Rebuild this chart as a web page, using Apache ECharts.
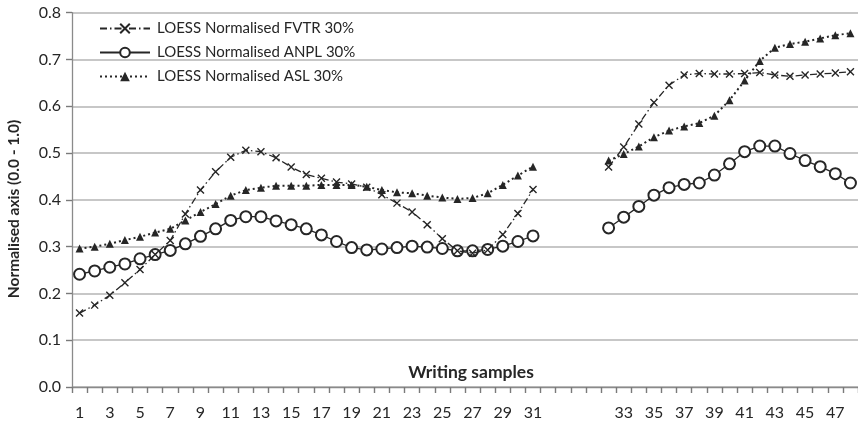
<!DOCTYPE html>
<html>
<head>
<meta charset="utf-8">
<script src="https://cdn.jsdelivr.net/npm/echarts@6/dist/echarts.min.js"></script>
<style>
html,body{margin:0;padding:0;background:#fff;}
#chart{width:858px;height:426px;}
</style>
</head>
<body>
<div id="chart"></div>
<script>
// Category labels (4 unlabeled gap categories between 31 and 32)
const categories = ['1','2','3','4','5','6','7','8','9','10','11','12','13','14','15','16','17','18','19','20','21','22','23','24','25','26','27','28','29','30','31','','','','','32','33','34','35','36','37','38','39','40','41','42','43','44','45','46','47','48'];
const gapCount = 4;

const seriesNames = ['LOESS Normalised FVTR 30%','LOESS Normalised ANPL 30%','LOESS Normalised ASL 30%'];

// Samples 1-31
const fvtrA = [0.158,0.175,0.196,0.223,0.251,0.283,0.313,0.370,0.421,0.460,0.491,0.506,0.503,0.490,0.470,0.454,0.446,0.438,0.434,0.427,0.411,0.393,0.374,0.347,0.317,0.291,0.286,0.293,0.326,0.371,0.422];
const anplA = [0.241,0.248,0.256,0.263,0.274,0.283,0.292,0.306,0.322,0.338,0.356,0.364,0.364,0.355,0.347,0.338,0.325,0.311,0.298,0.293,0.295,0.298,0.301,0.299,0.296,0.291,0.291,0.294,0.301,0.311,0.323];
const aslA  = [0.296,0.300,0.306,0.314,0.321,0.330,0.338,0.356,0.374,0.391,0.409,0.421,0.426,0.430,0.430,0.430,0.432,0.432,0.432,0.428,0.421,0.416,0.414,0.409,0.405,0.402,0.404,0.414,0.432,0.452,0.471];
// Samples 32-48
const fvtrB = [0.470,0.513,0.562,0.608,0.645,0.667,0.670,0.669,0.669,0.670,0.672,0.667,0.664,0.667,0.669,0.671,0.674];
const anplB = [0.340,0.363,0.386,0.410,0.426,0.433,0.436,0.453,0.477,0.503,0.515,0.515,0.499,0.484,0.471,0.456,0.436];
const aslB  = [0.484,0.498,0.514,0.534,0.548,0.557,0.564,0.580,0.613,0.655,0.697,0.725,0.733,0.738,0.745,0.752,0.756];

const yTicks = [0,0.1,0.2,0.3,0.4,0.5,0.6,0.7,0.8];

function join(a, b){ return a.concat(new Array(gapCount).fill(null), b); }

const ink = '#262626';
const gridGray = '#b4b4b4';
const axisGray = '#8a8a8a';
const xSymbol = 'path://M0,0L10,10M10,0L0,10';
const FONT = 'Lato';

const chart = echarts.init(document.getElementById('chart'), null, {renderer:'canvas'});
chart.setOption({
  animation: false,
  backgroundColor: '#fff',
  textStyle: {fontFamily: FONT},
  grid: {left: 72, right: 0, top: 12.7, bottom: 39, containLabel: false},
  legend: {
    orient: 'vertical', left: 94, top: 16,
    itemWidth: 50, itemHeight: 12, itemGap: 9,
    data: seriesNames,
    textStyle: {fontFamily: FONT, fontSize: 15, color: ink, lineHeight: 15, padding: [0,0,0,2]}
  },
  xAxis: {
    type: 'category', data: categories, boundaryGap: true, position: 'bottom',
    axisLine: {show: true, onZero: false, lineStyle: {color: axisGray, width: 1.3}},
    axisTick: {show: true, interval: 0, length: 6, lineStyle: {color: '#7a7a7a', width: 1.4}},
    axisLabel: {interval: 1, margin: 18, fontFamily: FONT, fontSize: 16, color: ink},
    splitLine: {show: false}
  },
  yAxis: {
    type: 'value', min: yTicks[0], max: yTicks[yTicks.length-1], interval: 0.1,
    axisLine: {show: true, lineStyle: {color: axisGray, width: 1.3}},
    axisTick: {show: true, length: 6, lineStyle: {color: '#7a7a7a', width: 1.4}},
    axisLabel: {margin: 11, fontFamily: FONT, fontSize: 16, color: ink, formatter: v => v.toFixed(1)},
    splitLine: {show: true, lineStyle: {color: gridGray, width: 1.5}}
  },
  graphic: [
    {type: 'text', x: 471, y: 372, z: 10, style: {text: 'Writing samples', font: 'bold 17.5px Lato', fill: ink, align: 'center', verticalAlign: 'middle'}},
    {type: 'text', rotation: Math.PI/2, x: 14, y: 209, style: {text: 'Normalised axis (0.0 - 1.0)', font: 'bold 15.5px Lato', fill: ink, align: 'center', verticalAlign: 'middle'}}
  ],
  series: [
    {
      name: seriesNames[1], type: 'line', data: join(anplA, anplB), connectNulls: false,
      symbol: 'emptyCircle', symbolSize: 11, showSymbol: true, showAllSymbol: true, z: 2,
      lineStyle: {color: ink, width: 1.3, type: 'solid'},
      itemStyle: {color: ink, borderColor: ink, borderWidth: 1.2}
    },
    {
      name: seriesNames[0], type: 'line', data: join(fvtrA, fvtrB), connectNulls: false,
      symbol: xSymbol, symbolSize: 7, showSymbol: true, showAllSymbol: true, z: 3,
      lineStyle: {color: ink, width: 1.3, type: [7,3,1.5,3]},
      itemStyle: {color: ink, borderColor: ink, borderWidth: 1.4}
    },
    {
      name: seriesNames[2], type: 'line', data: join(aslA, aslB), connectNulls: false,
      symbol: 'triangle', symbolSize: 8, showSymbol: true, showAllSymbol: true, z: 4,
      lineStyle: {color: ink, width: 2, type: [2,3]},
      itemStyle: {color: ink, borderWidth: 0}
    }
  ]
});
</script>
</body>
</html>
